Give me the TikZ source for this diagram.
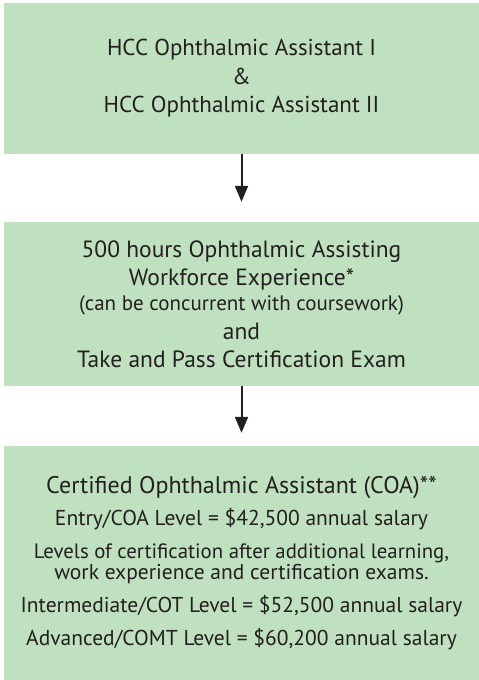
\documentclass[tikz,border=0pt]{standalone}
\usepackage{fontspec}
\setmainfont{PT Sans}
\usetikzlibrary{arrows.meta}
\definecolor{boxgreen}{RGB}{192,225,191}
\definecolor{inkgray}{RGB}{35,31,32}
\setlength{\lineskiplimit}{-8pt}
\tikzset{
  stagebox/.style = {fill = boxgreen, minimum width = 475pt, align = center, text = inkgray, inner sep = 0pt},
  flowarrow/.style = {draw = inkgray, line width = 2pt, -{Triangle[width = 13pt, length = 16pt]}}
}
\begin{document}
\begin{tikzpicture}[x = 1pt, y = -1pt]
\useasboundingbox (0,0) rectangle (479,680);
\node [stagebox, minimum height = 151pt, font = \fontsize{23}{28.5}\selectfont] (courses) at (241.5,78.5)
  {HCC Ophthalmic Assistant I\\ \&\\ HCC Ophthalmic Assistant II};
\node [stagebox, minimum height = 164pt, font = \fontsize{23.5}{28}\selectfont] (exam) at (241.5,304)
  {500 hours Ophthalmic Assisting\\ Workforce Experience*\\[-3pt]
   {\fontsize{21}{25}\selectfont (can be concurrent with coursework)}\\[1pt] and\\ Take and Pass Certification Exam};
\node [stagebox, minimum height = 234pt, font = \fontsize{21.5}{21}\selectfont] (coa) at (241.5,563)
  {{\fontsize{24}{21}\selectfont Certified Ophthalmic Assistant (COA)**}\\[10.5pt]
   Entry/COA Level = \$42,500 annual salary\\[12pt]
   {\fontsize{20.8}{21}\selectfont Levels of certification after additional learning,}\\
   work experience and certification exams.\\[12pt]
   Intermediate/COT Level = \$52,500 annual salary\\[12pt]
   Advanced/COMT Level = \$60,200 annual salary};
\draw [flowarrow, shorten > = 20pt] (courses) -- (exam);
\draw [flowarrow, shorten > = 13pt] (exam) -- (coa);
\end{tikzpicture}
\end{document}
